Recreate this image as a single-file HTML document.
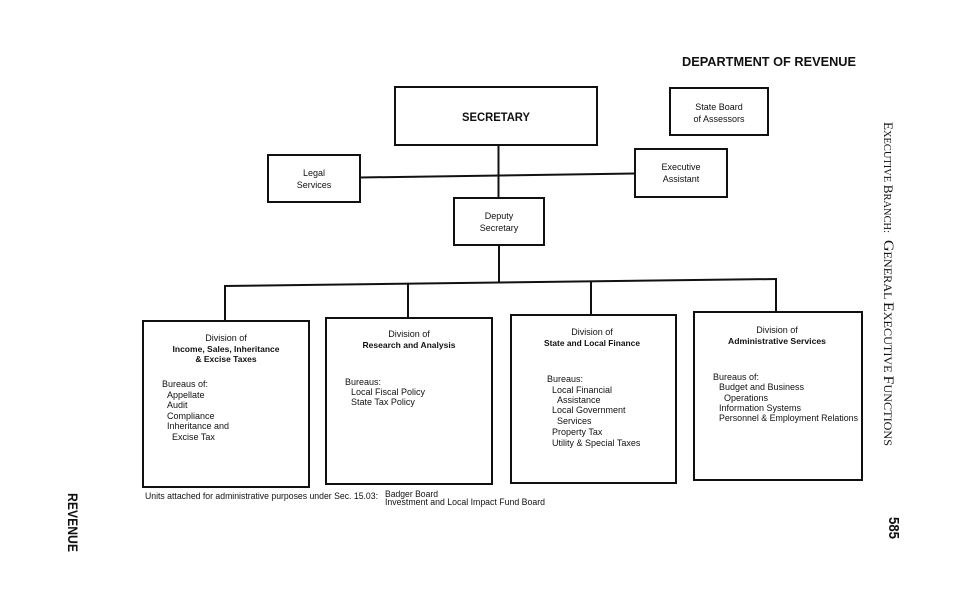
<!DOCTYPE html>
<html>
<head>
<meta charset="utf-8">
<style>
  html, body { margin:0; padding:0; background:#fff; }
  svg { display:block; }
  text { font-family: "Liberation Sans", Arial, sans-serif; fill:#111; }
  .r { font-size:9px; }
  .b { font-size:8.5px; font-weight:bold; }
  .serif { font-family: "Liberation Serif", "Times New Roman", serif; }
</style>
</head>
<body>
<svg width="964" height="600" viewBox="0 0 964 600" xmlns="http://www.w3.org/2000/svg">
  <rect x="0" y="0" width="964" height="600" fill="#fff"/>

  <!-- Title -->
  <text x="682" y="66" font-size="12.5" font-weight="bold" textLength="174" lengthAdjust="spacingAndGlyphs">DEPARTMENT OF REVENUE</text>

  <g fill="none" stroke="#111" stroke-width="2">
    <!-- Secretary -->
    <rect x="395" y="87" width="202" height="58"/>
    <!-- State Board -->
    <rect x="670" y="88" width="98" height="47"/>
    <!-- Legal Services -->
    <rect x="268" y="155" width="92" height="47"/>
    <!-- Executive Assistant -->
    <rect x="635" y="149" width="92" height="48"/>
    <!-- Deputy -->
    <rect x="454" y="198" width="90" height="47"/>

    <!-- connectors -->
    <line x1="498.5" y1="145" x2="498.5" y2="198"/>
    <line x1="360" y1="177.5" x2="635" y2="173.5"/>
    <line x1="499" y1="245" x2="499" y2="282"/>
    <line x1="224" y1="286" x2="777" y2="279"/>
    <line x1="225" y1="286" x2="225" y2="321"/>
    <line x1="408" y1="284" x2="408" y2="318"/>
    <line x1="591" y1="281.5" x2="591" y2="315"/>
    <line x1="776" y1="279" x2="776" y2="312"/>

    <!-- Division boxes -->
    <rect x="143" y="321" width="166" height="166"/>
    <rect x="326" y="318" width="166" height="166"/>
    <rect x="511" y="315" width="165" height="168"/>
    <rect x="694" y="312" width="168" height="168"/>
  </g>

  <!-- Top box labels -->
  <text x="496" y="121" font-size="11.5" font-weight="bold" text-anchor="middle" textLength="68" lengthAdjust="spacingAndGlyphs">SECRETARY</text>
  <text class="r" x="719" y="110" text-anchor="middle">State Board</text>
  <text class="r" x="719" y="122" text-anchor="middle">of Assessors</text>
  <text class="r" x="314" y="176" text-anchor="middle">Legal</text>
  <text class="r" x="314" y="188" text-anchor="middle">Services</text>
  <text class="r" x="681" y="170" text-anchor="middle">Executive</text>
  <text class="r" x="681" y="182" text-anchor="middle">Assistant</text>
  <text class="r" x="499" y="219" text-anchor="middle">Deputy</text>
  <text class="r" x="499" y="231" text-anchor="middle">Secretary</text>

  <!-- Division 1 -->
  <text class="r" x="226" y="341" text-anchor="middle">Division of</text>
  <text class="b" x="226" y="352" text-anchor="middle" textLength="107" lengthAdjust="spacingAndGlyphs">Income, Sales, Inheritance</text>
  <text class="b" x="226" y="362" text-anchor="middle">&amp; Excise Taxes</text>
  <text class="r" x="162" y="387">Bureaus of:</text>
  <text class="r" x="167" y="398">Appellate</text>
  <text class="r" x="167" y="408">Audit</text>
  <text class="r" x="167" y="419">Compliance</text>
  <text class="r" x="167" y="429">Inheritance and</text>
  <text class="r" x="172" y="440">Excise Tax</text>

  <!-- Division 2 -->
  <text class="r" x="409" y="337" text-anchor="middle">Division of</text>
  <text class="b" x="409" y="348" text-anchor="middle" textLength="93" lengthAdjust="spacingAndGlyphs">Research and Analysis</text>
  <text class="r" x="345" y="385">Bureaus:</text>
  <text class="r" x="351" y="395">Local Fiscal Policy</text>
  <text class="r" x="351" y="405">State Tax Policy</text>

  <!-- Division 3 -->
  <text class="r" x="592" y="335" text-anchor="middle">Division of</text>
  <text class="b" x="592" y="346" text-anchor="middle" textLength="96" lengthAdjust="spacingAndGlyphs">State and Local Finance</text>
  <text class="r" x="547" y="382">Bureaus:</text>
  <text class="r" x="552" y="393">Local Financial</text>
  <text class="r" x="557" y="403">Assistance</text>
  <text class="r" x="552" y="413">Local Government</text>
  <text class="r" x="557" y="424">Services</text>
  <text class="r" x="552" y="435">Property Tax</text>
  <text class="r" x="552" y="446">Utility &amp; Special Taxes</text>

  <!-- Division 4 -->
  <text class="r" x="777" y="333" text-anchor="middle">Division of</text>
  <text class="b" x="777" y="344" text-anchor="middle" textLength="98" lengthAdjust="spacingAndGlyphs">Administrative Services</text>
  <text class="r" x="713" y="380">Bureaus of:</text>
  <text class="r" x="719" y="390">Budget and Business</text>
  <text class="r" x="724" y="401">Operations</text>
  <text class="r" x="719" y="411">Information Systems</text>
  <text class="r" x="719" y="421" textLength="139" lengthAdjust="spacingAndGlyphs">Personnel &amp; Employment Relations</text>

  <!-- Footer -->
  <text class="r" x="145" y="499" textLength="233" lengthAdjust="spacingAndGlyphs">Units attached for administrative purposes under Sec. 15.03:</text>
  <text class="r" x="385" y="497" textLength="53" lengthAdjust="spacingAndGlyphs">Badger Board</text>
  <text class="r" x="385" y="505" textLength="160" lengthAdjust="spacingAndGlyphs">Investment and Local Impact Fund Board</text>

  <!-- Right side rotated header -->
  <g transform="translate(884,122) rotate(90)">
    <text class="serif" x="0" y="0" textLength="111" lengthAdjust="spacingAndGlyphs"><tspan font-size="12.5">E</tspan><tspan font-size="10">XECUTIVE </tspan><tspan font-size="12.5">B</tspan><tspan font-size="10">RANCH:</tspan></text>
  </g>
  <g transform="translate(884,240) rotate(90)">
    <text class="serif" x="0" y="0" textLength="206" lengthAdjust="spacingAndGlyphs"><tspan font-size="15">G</tspan><tspan font-size="11.5">ENERAL </tspan><tspan font-size="15">E</tspan><tspan font-size="11.5">XECUTIVE </tspan><tspan font-size="15">F</tspan><tspan font-size="11.5">UNCTIONS</tspan></text>
  </g>

  <!-- Page number -->
  <g transform="translate(889,517) rotate(90)">
    <text x="0" y="0" font-size="15" font-weight="bold" textLength="22" lengthAdjust="spacingAndGlyphs">585</text>
  </g>

  <!-- Left side REVENUE -->
  <g transform="translate(68,493) rotate(90)">
    <text x="0" y="0" font-size="14" font-weight="bold" textLength="59" lengthAdjust="spacingAndGlyphs">REVENUE</text>
  </g>
</svg>
</body>
</html>
